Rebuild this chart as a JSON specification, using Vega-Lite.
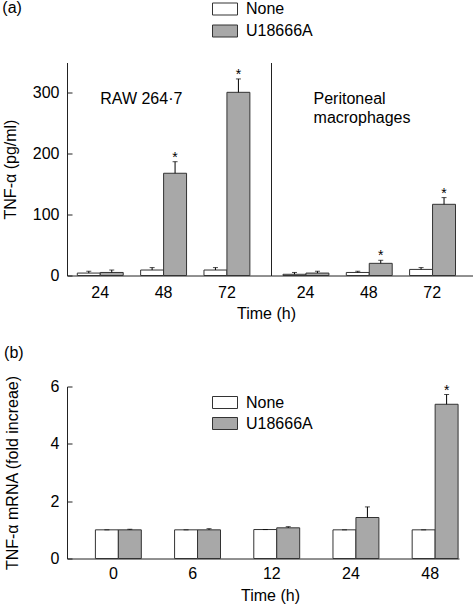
{
  "$schema": "https://vega.github.io/schema/vega-lite/v6.json",
  "padding": {"left": 2, "top": -4.5, "right": 0, "bottom": 0},
  "config": {
    "font": "Liberation Sans",
    "view": {"stroke": null},
    "axis": {"domainColor": "#222", "tickColor": "#222", "labelColor": "#000", "titleColor": "#000", "grid": false, "labelFontSize": 16, "titleFontSize": 16, "titleFontWeight": "normal"},
    "legend": {"labelFontSize": 16, "labelColor": "#000"},
    "title": {"fontSize": 16, "fontWeight": "normal", "anchor": "start"}
  },
  "datasets": {
    "a": [
      {"cell": "RAW", "time": "24", "treatment": "None", "mean": 4, "upper": 7, "sig": false},
      {"cell": "RAW", "time": "24", "treatment": "U18666A", "mean": 5, "upper": 9, "sig": false},
      {"cell": "RAW", "time": "48", "treatment": "None", "mean": 9, "upper": 13, "sig": false},
      {"cell": "RAW", "time": "48", "treatment": "U18666A", "mean": 168, "upper": 187, "sig": true},
      {"cell": "RAW", "time": "72", "treatment": "None", "mean": 9, "upper": 13, "sig": false},
      {"cell": "RAW", "time": "72", "treatment": "U18666A", "mean": 301, "upper": 323, "sig": true},
      {"cell": "PM", "time": "24", "treatment": "None", "mean": 2, "upper": 5, "sig": false},
      {"cell": "PM", "time": "24", "treatment": "U18666A", "mean": 4, "upper": 7, "sig": false},
      {"cell": "PM", "time": "48", "treatment": "None", "mean": 5, "upper": 7, "sig": false},
      {"cell": "PM", "time": "48", "treatment": "U18666A", "mean": 20, "upper": 25, "sig": true},
      {"cell": "PM", "time": "72", "treatment": "None", "mean": 10, "upper": 13, "sig": false},
      {"cell": "PM", "time": "72", "treatment": "U18666A", "mean": 117, "upper": 128, "sig": true}
    ],
    "b": [
      {"time": "0", "treatment": "None", "mean": 1.0, "upper": 1.0, "sig": false},
      {"time": "0", "treatment": "U18666A", "mean": 1.0, "upper": 1.02, "sig": false},
      {"time": "6", "treatment": "None", "mean": 1.0, "upper": 1.0, "sig": false},
      {"time": "6", "treatment": "U18666A", "mean": 1.0, "upper": 1.04, "sig": false},
      {"time": "12", "treatment": "None", "mean": 1.01, "upper": 1.01, "sig": false},
      {"time": "12", "treatment": "U18666A", "mean": 1.07, "upper": 1.11, "sig": false},
      {"time": "24", "treatment": "None", "mean": 1.0, "upper": 1.0, "sig": false},
      {"time": "24", "treatment": "U18666A", "mean": 1.43, "upper": 1.8, "sig": false},
      {"time": "48", "treatment": "None", "mean": 1.0, "upper": 1.0, "sig": false},
      {"time": "48", "treatment": "U18666A", "mean": 5.38, "upper": 5.72, "sig": true}
    ],
    "labels": [
      {"cell": "RAW", "time": "24", "label": ["RAW 264·7"]},
      {"cell": "PM", "time": "24", "label": ["Peritoneal", "macrophages"]}
    ]
  },
  "bounds": "flush",
  "spacing": 324,
  "resolve": {"scale": {"color": "independent"}},
  "vconcat": [
    {
      "title": {"text": "(a)", "offset": -20},
      "bounds": "flush",
      "spacing": 0,
      "resolve": {"scale": {"color": "independent"}},
      "hconcat": [
        {
          "width": 204,
          "height": 213,
          "encoding": {
            "x": {"field": "time", "type": "nominal", "sort": null,
              "scale": {"paddingInner": 0.275, "paddingOuter": 0.248, "align": 0.328},
              "axis": {"title": "Time (h)", "labelAngle": 0, "ticks": false, "tickSize": 0, "labelPadding": 9, "titleX": 199, "titleY": 43, "titleAlign": "center", "titleBaseline": "alphabetic"}}
          },
          "layer": [
            {
              "data": {"name": "a"},
              "transform": [{"filter": "datum.cell == 'RAW'"}],
              "layer": [
                {
                  "mark": {"type": "bar", "stroke": "#333", "strokeWidth": 1},
                  "encoding": {
                    "xOffset": {"field": "treatment", "type": "nominal", "scale": {"domain": ["None", "U18666A"], "paddingInner": 0, "paddingOuter": 0}},
                    "y": {"field": "mean", "type": "quantitative", "scale": {"domain": [0, 350], "nice": false},
                      "axis": {"title": "TNF-α (pg/ml)", "values": [0, 50, 100, 150, 200, 250, 300, 350], "labelExpr": "datum.value % 100 == 0 ? datum.label : ''", "tickSize": -5, "labelPadding": 13, "titlePadding": 14}},
                    "color": {"field": "treatment", "type": "nominal", "scale": {"domain": ["None", "U18666A"], "range": ["#ffffff", "#a8a8a8"]},
                      "legend": {"title": null, "orient": "none", "legendX": 145, "legendY": -66.5, "symbolType": "M-1,-0.48H1V0.48H-1Z", "symbolSize": 625, "symbolStrokeColor": "#333", "symbolStrokeWidth": 1, "labelOffset": 8, "rowPadding": 1}}
                  }
                },
                {
                  "mark": {"type": "rule", "color": "#000", "strokeWidth": 1},
                  "encoding": {"xOffset": {"field": "treatment", "type": "nominal"}, "y": {"field": "mean", "type": "quantitative"}, "y2": {"field": "upper"}}
                },
                {
                  "mark": {"type": "tick", "orient": "horizontal", "color": "#000", "size": 5, "thickness": 1},
                  "encoding": {"xOffset": {"field": "treatment", "type": "nominal"}, "y": {"field": "upper", "type": "quantitative"}}
                },
                {
                  "transform": [{"filter": "datum.sig"}],
                  "mark": {"type": "text", "text": "*", "fontSize": 14, "baseline": "alphabetic", "color": "#000"},
                  "encoding": {"xOffset": {"field": "treatment", "type": "nominal"}, "y": {"field": "upper", "type": "quantitative"}}
                }
              ]
            },
            {
              "data": {"name": "labels"},
              "transform": [{"filter": "datum.cell == 'RAW'"}],
              "mark": {"type": "text", "fontSize": 16, "align": "left", "baseline": "alphabetic", "lineHeight": 19, "color": "#000"},
              "encoding": {"x": {"field": "time", "type": "nominal", "bandPosition": 0.5}, "text": {"field": "label"}, "y": {"datum": 281, "type": "quantitative"}}
            }
          ]
        },
        {
          "width": 201.7,
          "height": 213,
          "encoding": {
            "x": {"field": "time", "type": "nominal", "sort": null,
              "scale": {"paddingInner": 0.2875, "paddingOuter": 0.237, "align": 0.4},
              "axis": {"title": null, "labelAngle": 0, "ticks": false, "tickSize": 0, "labelPadding": 9}}
          },
          "layer": [
            {
              "data": {"name": "a"},
              "transform": [{"filter": "datum.cell == 'PM'"}],
              "layer": [
                {
                  "mark": {"type": "bar", "stroke": "#333", "strokeWidth": 1},
                  "encoding": {
                    "xOffset": {"field": "treatment", "type": "nominal", "scale": {"domain": ["None", "U18666A"], "paddingInner": 0, "paddingOuter": 0}},
                    "y": {"field": "mean", "type": "quantitative", "scale": {"domain": [0, 350], "nice": false},
                      "axis": {"title": null, "labels": false, "ticks": false}},
                    "color": {"field": "treatment", "type": "nominal", "scale": {"domain": ["None", "U18666A"], "range": ["#ffffff", "#a8a8a8"]}, "legend": null}
                  }
                },
                {
                  "mark": {"type": "rule", "color": "#000", "strokeWidth": 1},
                  "encoding": {"xOffset": {"field": "treatment", "type": "nominal"}, "y": {"field": "mean", "type": "quantitative"}, "y2": {"field": "upper"}}
                },
                {
                  "mark": {"type": "tick", "orient": "horizontal", "color": "#000", "size": 5, "thickness": 1},
                  "encoding": {"xOffset": {"field": "treatment", "type": "nominal"}, "y": {"field": "upper", "type": "quantitative"}}
                },
                {
                  "transform": [{"filter": "datum.sig"}],
                  "mark": {"type": "text", "text": "*", "fontSize": 14, "baseline": "alphabetic", "color": "#000"},
                  "encoding": {"xOffset": {"field": "treatment", "type": "nominal"}, "y": {"field": "upper", "type": "quantitative"}}
                }
              ]
            },
            {
              "data": {"name": "labels"},
              "transform": [{"filter": "datum.cell == 'PM'"}],
              "mark": {"type": "text", "fontSize": 16, "align": "left", "baseline": "alphabetic", "lineHeight": 19, "dx": 8, "color": "#000"},
              "encoding": {"x": {"field": "time", "type": "nominal", "bandPosition": 0.5}, "text": {"field": "label"}, "y": {"datum": 281, "type": "quantitative"}}
            }
          ]
        }
      ]
    },
    {
      "title": {"text": "(b)", "offset": 14},
      "width": 392,
      "height": 172,
      "data": {"name": "b"},
      "encoding": {
        "x": {"field": "time", "type": "nominal", "sort": null,
          "scale": {"paddingInner": 0.545, "paddingOuter": 0.2475, "align": 0.7245},
          "axis": {"title": "Time (h)", "labelAngle": 0, "ticks": false, "tickSize": 0, "labelPadding": 7, "titleX": 203, "titleY": 42, "titleAlign": "center", "titleBaseline": "alphabetic"}},
        "xOffset": {"field": "treatment", "type": "nominal", "scale": {"domain": ["None", "U18666A"], "paddingInner": 0, "paddingOuter": 0}}
      },
      "layer": [
        {
          "mark": {"type": "bar", "stroke": "#333", "strokeWidth": 1},
          "encoding": {
            "y": {"field": "mean", "type": "quantitative", "scale": {"domain": [0, 6], "nice": false},
              "axis": {"title": "TNF-α mRNA (fold increae)", "values": [0, 1, 2, 3, 4, 5, 6], "labelExpr": "datum.value % 2 == 0 ? datum.label : ''", "tickSize": -5, "labelPadding": 13, "titlePadding": 30}},
            "color": {"field": "treatment", "type": "nominal", "scale": {"domain": ["None", "U18666A"], "range": ["#ffffff", "#a8a8a8"]},
              "legend": {"title": null, "orient": "none", "legendX": 145, "legendY": 3, "symbolType": "M-1,-0.48H1V0.48H-1Z", "symbolSize": 625, "symbolStrokeColor": "#333", "symbolStrokeWidth": 1, "labelOffset": 8, "rowPadding": 0}}
          }
        },
        {
          "mark": {"type": "rule", "color": "#000", "strokeWidth": 1},
          "encoding": {"y": {"field": "mean", "type": "quantitative"}, "y2": {"field": "upper"}}
        },
        {
          "mark": {"type": "tick", "orient": "horizontal", "color": "#000", "size": 5, "thickness": 1},
          "encoding": {"y": {"field": "upper", "type": "quantitative"}}
        },
        {
          "transform": [{"filter": "datum.sig"}],
          "mark": {"type": "text", "text": "*", "fontSize": 14, "baseline": "alphabetic", "color": "#000"},
          "encoding": {"y": {"field": "upper", "type": "quantitative"}}
        }
      ]
    }
  ]
}
